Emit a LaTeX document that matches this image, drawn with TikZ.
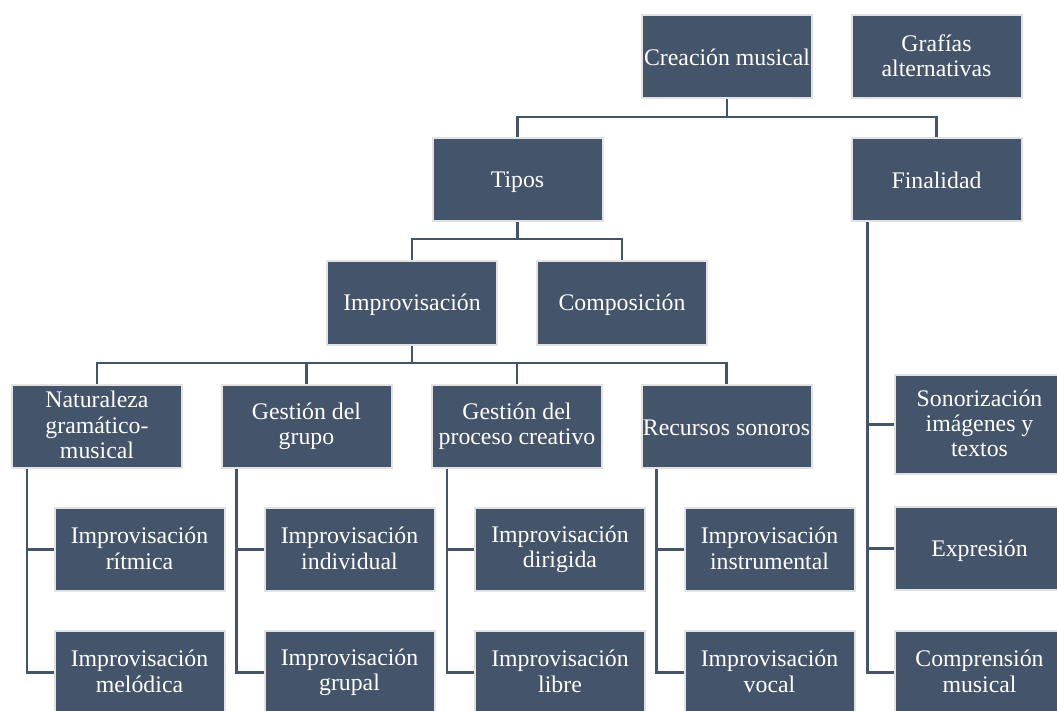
\documentclass[tikz,border=0pt]{standalone}
\usepackage{fontspec}
\setmainfont{Liberation Serif}
\definecolor{slate}{HTML}{44546A}
\definecolor{rim}{HTML}{E2E2E2}
\begin{document}
\begin{tikzpicture}[x=1pt,y=-1pt,
  box/.style={draw=rim, line width=2pt, fill=slate, text=white,
    minimum width=170pt, minimum height=83pt, inner sep=0pt, align=center,
    font=\fontsize{23.8}{25.2}\selectfont,
    execute at begin node={\rule{0pt}{21pt}},
    execute at end node={\rule[-2.5pt]{0pt}{2.5pt}}},
  link/.style={draw=slate, line width=2.6pt, line join=miter}]
\clip (0,0) rectangle (1057,711);
\fill[white] (0,0) rectangle (1057,711);

% top level
\node[box] (cm)  at (727,56.5)   {Creación musical};
\node[box] (gr)  at (936.5,56.5) {Grafías\\alternativas};
\node[box] (tip) at (517.5,179.5){Tipos};
\node[box] (fin) at (936.5,179.5){Finalidad};

% types
\node[box] (imp) at (412,303) {Improvisación};
\node[box] (cmp) at (622,303) {Composición};

% improvisation criteria
\node[box] (nat) at (97,426)    {Naturaleza\\gramático-\\musical};
\node[box] (ggr) at (306.5,426) {Gestión del\\grupo};
\node[box] (gpc) at (517,426)   {Gestión del\\proceso creativo};
\node[box] (rec) at (726.5,426) {Recursos sonoros};

% kinds of improvisation
\node[box] (rit) at (139.5,549.5) {Improvisación\\rítmica};
\node[box] (mel) at (139.5,672.5) {Improvisación\\melódica};
\node[box] (ind) at (349.5,549.5) {Improvisación\\individual};
\node[box] (gru) at (349.5,672.5) {Improvisación\\grupal};
\node[box] (dir) at (560,549.5)   {Improvisación\\dirigida};
\node[box] (lib) at (560,672.5)   {Improvisación\\libre};
\node[box] (ins) at (769.5,549.5) {Improvisación\\instrumental};
\node[box] (voc) at (769.5,672.5) {Improvisación\\vocal};

% purposes
\node[box, minimum height=99pt] (son) at (979.5,424.5) {Sonorización\\imágenes y\\textos};
\node[box] (exp) at (979.5,548.5) {Expresión};
\node[box] (com) at (979.5,672.5) {Comprensión\\musical};

% junctions
\coordinate (j1) at (727,117);
\coordinate (j2) at (517.5,239);
\coordinate (j3) at (412,363);

\draw[link] (cm.south) -- (j1);
\draw[link] (tip.north) |- (j1) -| (fin.north);

\draw[link] (tip.south) -- (j2);
\draw[link] (imp.north) |- (j2) -| (cmp.north);

\draw[link] (imp.south) -- (j3);
\draw[link] (nat.north) |- (j3) -| (rec.north);
\draw[link] (ggr.north) -- (ggr.north |- j3);
\draw[link] (gpc.north) -- (gpc.north |- j3);

% branch lines down the left side of each criterion
\draw[link] ([xshift=16pt]nat.south west) |- (mel.west);
\draw[link] ([xshift=16pt]nat.south west |- rit.west) -- (rit.west);
\draw[link] ([xshift=16pt]ggr.south west) |- (gru.west);
\draw[link] ([xshift=16pt]ggr.south west |- ind.west) -- (ind.west);
\draw[link] ([xshift=16pt]gpc.south west) |- (lib.west);
\draw[link] ([xshift=16pt]gpc.south west |- dir.west) -- (dir.west);
\draw[link] ([xshift=16pt]rec.south west) |- (voc.west);
\draw[link] ([xshift=16pt]rec.south west |- ins.west) -- (ins.west);

\draw[link] ([xshift=17pt]fin.south west) |- (com.west);
\draw[link] ([xshift=17pt]fin.south west |- son.west) -- (son.west);
\draw[link] ([xshift=17pt]fin.south west |- exp.west) -- (exp.west);
\end{tikzpicture}
\end{document}
